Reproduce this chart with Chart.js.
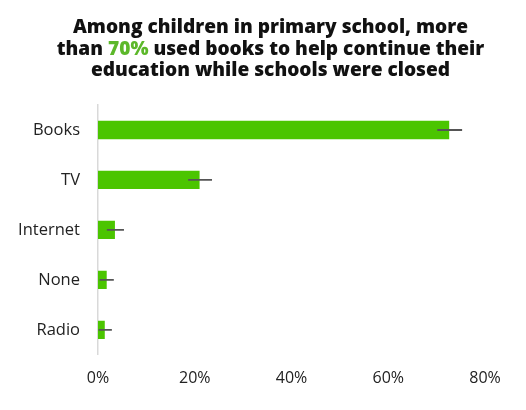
<!DOCTYPE html>
<html>
<head>
<meta charset="utf-8">
<script src="https://cdn.jsdelivr.net/npm/chart.js@4/dist/chart.umd.min.js"></script>
<style>
  html, body { margin: 0; padding: 0; background: #fff; }
  #wrap { position: relative; width: 526px; height: 410px; }
  #title {
    position: absolute; left: 0; top: 16px; width: 526px; box-sizing: border-box;
    padding-left: 15px; text-align: center;
    font-family: "Open Sans", sans-serif; font-weight: 800; font-size: 19.1px; line-height: 21.5px;
    color: #111;
  }
  #title .hl { color: #5cb82a; }
  canvas { position: absolute; left: 0; top: 0; }
</style>
</head>
<body>
<div id="wrap">
  <canvas id="c" width="526" height="410"></canvas>
  <div id="title">Among children in primary school, more<br>than <span class="hl">70%</span> used books to help continue their<br>education while schools were closed</div>
</div>
<script>
const categories = ["Books", "TV", "Internet", "None", "Radio"];
const values = [72.6, 21.0, 3.5, 1.8, 1.4];
const errLow = [70.2, 18.7, 1.9, 0.4, 0.2];
const errHigh = [75.2, 23.5, 5.3, 3.2, 2.8];
const xTicks = [0, 20, 40, 60, 80];

const errData = errLow.map((lo, i) => [lo, errHigh[i]]);

new Chart(document.getElementById('c'), {
  type: 'bar',
  data: {
    labels: categories,
    datasets: [
      {
        label: 'Error',
        data: errData,
        backgroundColor: '#555555',
        barThickness: 1.2,
        grouped: false,
        order: 0
      },
      {
        label: 'Share',
        data: values,
        backgroundColor: '#4bc500',
        categoryPercentage: 1,
        barPercentage: 0.367,
        grouped: false,
        order: 1
      }
    ]
  },
  options: {
    indexAxis: 'y',
    responsive: false,
    animation: false,
    devicePixelRatio: 1,
    layout: { padding: { top: 105, right: 41, bottom: 8, left: 0 } },
    plugins: { legend: { display: false }, title: { display: false }, tooltip: { enabled: false } },
    scales: {
      x: {
        min: 0, max: 80,
        afterBuildTicks: (s) => { s.ticks = xTicks.map(v => ({ value: v })); },
        ticks: {
          padding: 14,
          color: '#222',
          font: { family: 'Open Sans', size: 16 },
          callback: (v) => v + '%'
        },
        grid: { display: false, drawTicks: false },
        border: { display: false }
      },
      y: {
        afterFit: (s) => { s.width = 98; },
        ticks: {
          padding: 18,
          color: '#222',
          font: { family: 'Open Sans', size: 16.5 }
        },
        grid: { display: false, drawTicks: false },
        border: { display: true, color: '#d9d9d9', width: 1.5 }
      }
    }
  }
});
</script>
</body>
</html>
